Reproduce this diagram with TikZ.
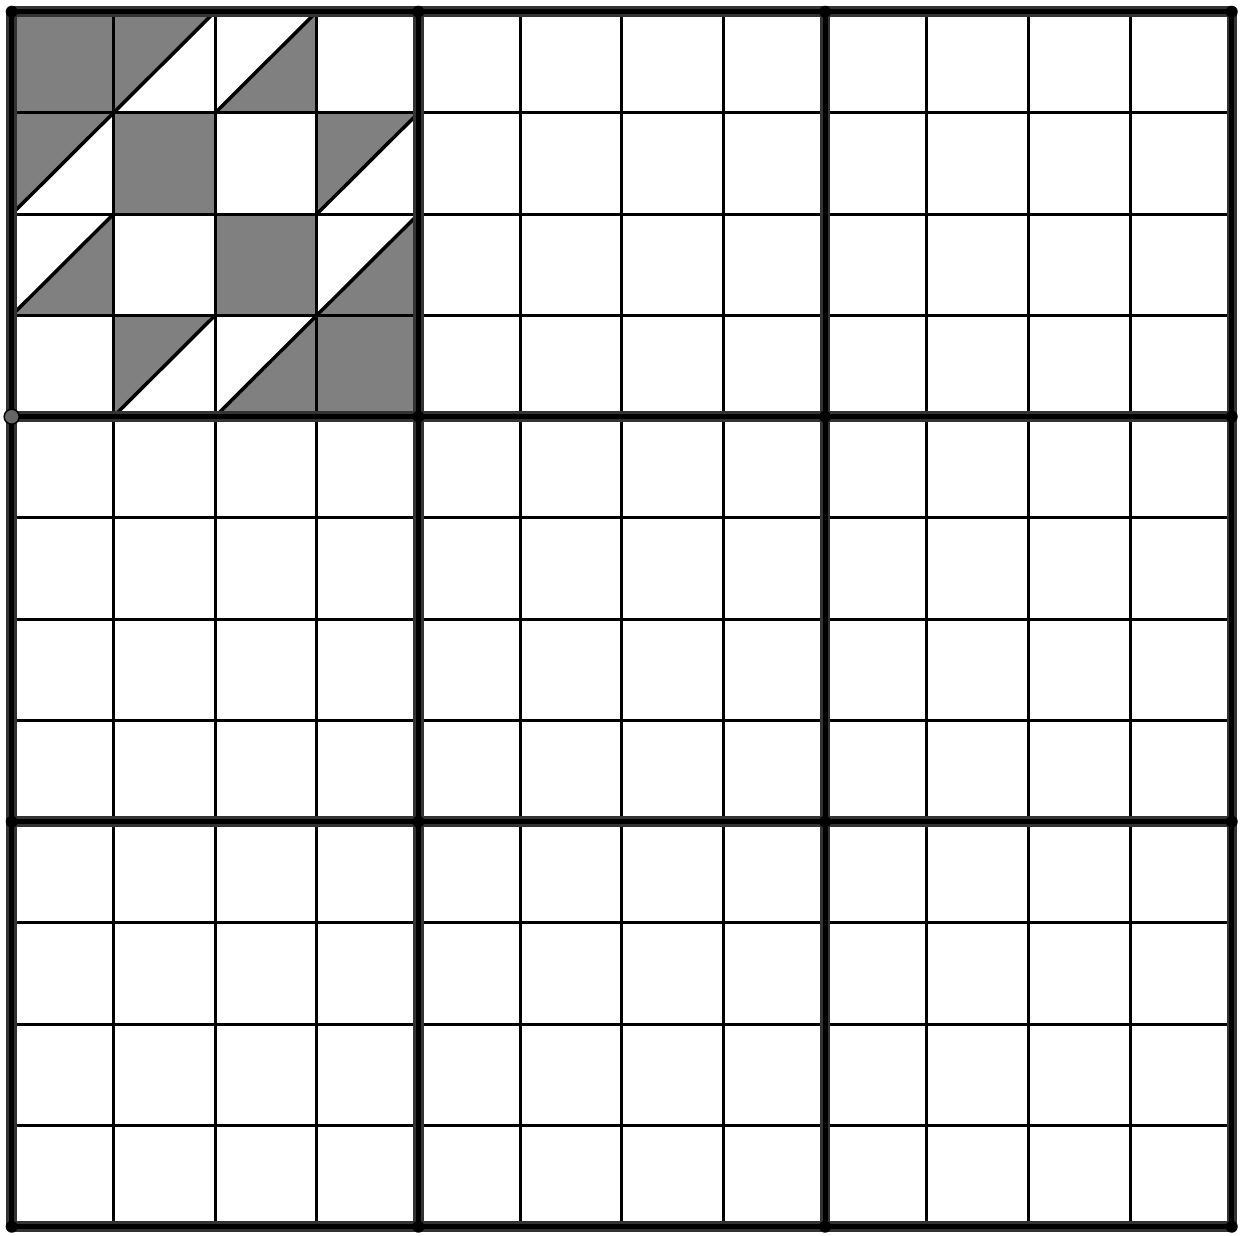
\documentclass[tikz,border=0pt]{standalone}
\definecolor{shade}{HTML}{808080}
\definecolor{ptgrey}{HTML}{666666}
\tikzset{
  cellfill/.style={fill=shade},
  thinline/.style={black, line width=3pt},
  diagline/.style={black, line width=3.5pt, line cap=round},
  thickouter/.style={black!80, line width=10.5pt},
  thickinner/.style={black, line width=5pt},
}
\begin{document}
\begin{tikzpicture}
\useasboundingbox[fill=white] (0,0) rectangle (1240pt,-1235pt);
\begin{scope}[shift={(11.7pt,-11.7pt)}, x=101.67pt, y=-101.25pt]
  % shaded cells (row y from top)
  % row 1
  \fill[cellfill] (0,0) rectangle (1,1);
  \fill[cellfill] (1,0) -- (2,0) -- (1,1) -- cycle;
  \fill[cellfill] (3,0) -- (3,1) -- (2,1) -- cycle;
  % row 2
  \fill[cellfill] (0,1) -- (1,1) -- (0,2) -- cycle;
  \fill[cellfill] (1,1) rectangle (2,2);
  \fill[cellfill] (3,1) -- (4,1) -- (3,2) -- cycle;
  % row 3
  \fill[cellfill] (1,2) -- (1,3) -- (0,3) -- cycle;
  \fill[cellfill] (2,2) rectangle (3,3);
  \fill[cellfill] (4,2) -- (4,3) -- (3,3) -- cycle;
  % row 4
  \fill[cellfill] (1,3) -- (2,3) -- (1,4) -- cycle;
  \fill[cellfill] (3,3) -- (3,4) -- (2,4) -- cycle;
  \fill[cellfill] (3,3) rectangle (4,4);
  % thin grid
  \foreach \i in {0,...,12} {
    \draw[thinline] (\i,0) -- (\i,12);
    \draw[thinline] (0,\i) -- (12,\i);
  }
  % diagonals (bottom-left to top-right)
  \draw[diagline] (1,1) -- (2,0);
  \draw[diagline] (2,1) -- (3,0);
  \draw[diagline] (0,2) -- (1,1);
  \draw[diagline] (3,2) -- (4,1);
  \draw[diagline] (0,3) -- (1,2);
  \draw[diagline] (3,3) -- (4,2);
  \draw[diagline] (1,4) -- (2,3);
  \draw[diagline] (2,4) -- (3,3);
  % thick block lines
  \foreach \i in {0,4,8,12} {
    \draw[thickouter] (\i,0) -- (\i,12);
    \draw[thickouter] (0,\i) -- (12,\i);
  }
  \foreach \i in {0,4,8,12} {
    \draw[thickinner] (\i,0) -- (\i,12);
    \draw[thickinner] (0,\i) -- (12,\i);
  }
  % corner dots
  \foreach \i in {0,4,8,12} {
    \foreach \j in {0,4,8,12} {
      \fill[black] (\i,\j) circle[radius=6pt];
    }
  }
  \filldraw[fill=ptgrey, draw=black, line width=1.5pt] (0,4) circle[radius=7.5pt];
\end{scope}
\end{tikzpicture}
\end{document}
